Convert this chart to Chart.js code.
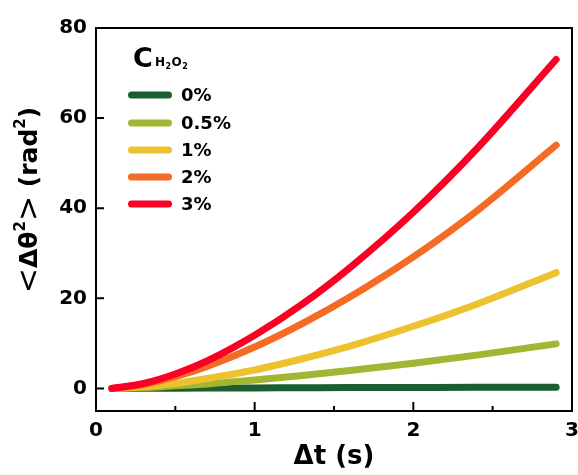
<!DOCTYPE html>
<html><head><meta charset="utf-8">
<script src="https://cdn.jsdelivr.net/npm/chart.js@4/dist/chart.umd.min.js"></script>
<style>html,body{margin:0;padding:0;background:#fff}</style>
</head><body>
<canvas id="c" width="578" height="475" style="width:578px;height:475px;display:block"></canvas>
<script>
// ---- data ----
const dt = [0.1, 0.3, 0.5, 0.7, 1.0, 1.3, 1.6, 2.0, 2.4, 2.9];
const seriesLabels = ['0%', '0.5%', '1%', '2%', '3%'];
const seriesColors = ['#1b5e30', '#a3b533', '#ecc22f', '#f46b25', '#fb0025'];
const msd0   = [0, 0.03, 0.06, 0.09, 0.13, 0.16, 0.19, 0.22, 0.25, 0.28];
const msd05  = [0, 0.2, 0.6, 1.0, 1.9, 2.9, 4.0, 5.6, 7.4, 9.9];
const msd1   = [0, 0.4, 1.1, 2.2, 4.1, 6.6, 9.4, 13.8, 18.7, 25.7];
const msd2   = [0, 0.9, 2.6, 4.9, 9.2, 14.4, 20.3, 29.2, 39.4, 54.0];
const msd3   = [0, 1.1, 3.2, 6.1, 11.8, 18.7, 26.8, 39.1, 53.2, 73.0];
const xTicks = [0, 1, 2, 3];
const xMinorTicks = [0.5, 1.5, 2.5];
const yTicks = [0, 20, 40, 60, 80];

const allSeries = [msd0, msd05, msd1, msd2, msd3];
const FONT = "'DejaVu Sans'";

const datasets = allSeries.map((vals, i) => ({
  label: seriesLabels[i],
  data: vals.map((v, k) => ({x: dt[k], y: v})),
  borderColor: seriesColors[i],
  backgroundColor: seriesColors[i],
  borderWidth: 7,
  borderCapStyle: 'round',
  borderJoinStyle: 'round',
  pointRadius: 0,
  cubicInterpolationMode: 'monotone',
  fill: false,
  order: allSeries.length - 1 - i
}));

const decor = {
  id: 'decor',
  afterDraw(chart) {
    const ctx = chart.ctx;
    const a = chart.chartArea;
    const xs = chart.scales.x, ys = chart.scales.y;
    ctx.save();
    ctx.strokeStyle = '#000';
    ctx.lineWidth = 2;
    ctx.strokeRect(a.left, a.top, a.right - a.left, a.bottom - a.top);
    ctx.beginPath();
    xTicks.forEach(v => { const p = xs.getPixelForValue(v); ctx.moveTo(p, a.bottom); ctx.lineTo(p, a.bottom - 9); });
    xMinorTicks.forEach(v => { const p = xs.getPixelForValue(v); ctx.moveTo(p, a.bottom); ctx.lineTo(p, a.bottom - 5); });
    yTicks.forEach(v => { const p = ys.getPixelForValue(v); ctx.moveTo(a.left, p); ctx.lineTo(a.left + 8, p); });
    ctx.stroke();

    // legend
    ctx.fillStyle = '#000';
    ctx.textBaseline = 'alphabetic';
    ctx.textAlign = 'left';
    ctx.font = 'bold 27px ' + FONT;
    ctx.fillText('C', 133, 67);
    let x = 155;
    const sub = [['H', 12, 66], ['2', 8, 69], ['O', 12, 66], ['2', 8, 69]];
    sub.forEach(([t, s, y]) => { ctx.font = 'bold ' + s + 'px ' + FONT; ctx.fillText(t, x, y); x += ctx.measureText(t).width + 0.5; });
    const ly = [95, 123, 150, 177, 204];
    chart.data.datasets.forEach((d, i) => {
      ctx.strokeStyle = d.borderColor;
      ctx.lineWidth = 7;
      ctx.lineCap = 'round';
      ctx.beginPath();
      ctx.moveTo(131.5, ly[i]); ctx.lineTo(168.5, ly[i]);
      ctx.stroke();
      ctx.fillStyle = '#000';
      ctx.font = 'bold 18px ' + FONT;
      ctx.textBaseline = 'middle';
      ctx.fillText(d.label, 181, ly[i] + 1);
    });

    // y axis title
    ctx.translate(30, 200);
    ctx.rotate(-Math.PI / 2);
    const parts = [
      ['<', 'normal 30px ' + FONT, 0],
      ['Δθ', 'bold 25px ' + FONT, 0],
      ['2', 'bold 15px ' + FONT, -9],
      ['>', 'normal 30px ' + FONT, 0],
      [' (rad', 'bold 25px ' + FONT, 0],
      ['2', 'bold 15px ' + FONT, -9],
      [')', 'bold 25px ' + FONT, 0]
    ];
    let total = 0;
    parts.forEach(p => { ctx.font = p[1]; total += ctx.measureText(p[0]).width; });
    let px = -total / 2;
    ctx.textBaseline = 'middle';
    ctx.fillStyle = '#000';
    parts.forEach(p => { ctx.font = p[1]; ctx.fillText(p[0], px, p[2]); px += ctx.measureText(p[0]).width; });
    ctx.restore();
  }
};

new Chart(document.getElementById('c'), {
  type: 'line',
  data: { datasets },
  options: {
    responsive: false,
    animation: false,
    devicePixelRatio: 1,
    layout: { padding: { left: 0, right: 6, top: 28, bottom: 0 } },
    plugins: { legend: { display: false }, tooltip: { enabled: false } },
    scales: {
      x: {
        type: 'linear', min: 0, max: 3,
        afterBuildTicks: s => { s.ticks = xTicks.map(v => ({value: v})); },
        afterFit: s => { s.height = 64; s.paddingRight = 0; s.paddingLeft = 0; },
        grid: { display: false, drawTicks: false },
        border: { display: false },
        ticks: { padding: 8, color: '#000', font: { family: FONT, size: 20, weight: 'bold' } },
        title: { display: true, text: 'Δt (s)', color: '#000', padding: { top: 0, bottom: 2 },
                 font: { family: FONT, size: 26, weight: 'bold' } }
      },
      y: {
        type: 'linear', min: -5, max: 80,
        afterBuildTicks: s => { s.ticks = yTicks.map(v => ({value: v})); },
        afterFit: s => { s.width = 96; s.paddingTop = 0; s.paddingBottom = 0; },
        grid: { display: false, drawTicks: false },
        border: { display: false },
        ticks: { padding: 9, color: '#000', font: { family: FONT, size: 20, weight: 'bold' } }
      }
    }
  },
  plugins: [decor]
});
</script>
</body></html>
